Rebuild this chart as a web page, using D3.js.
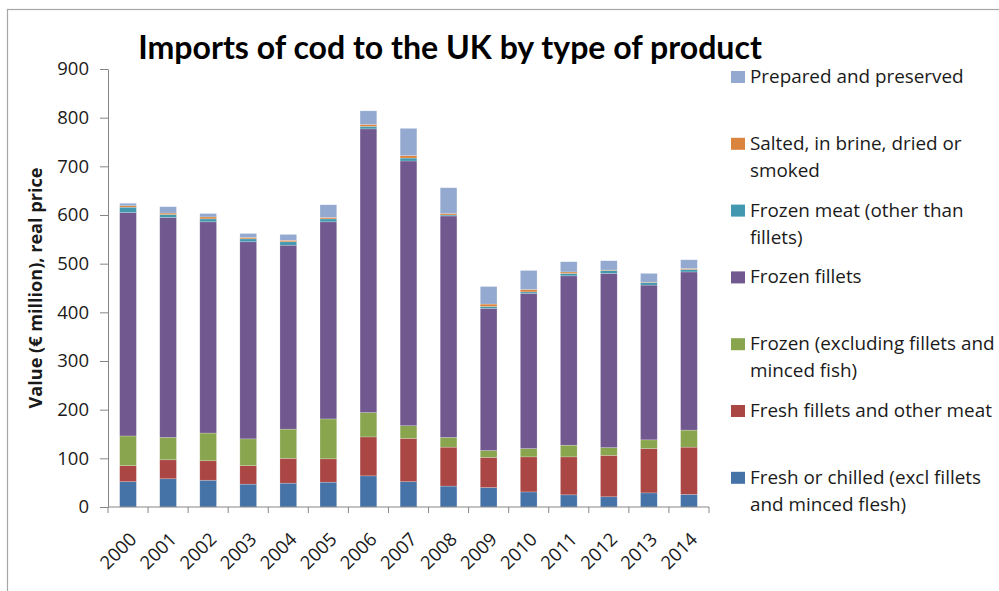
<!DOCTYPE html>
<html>
<head>
<meta charset="utf-8">
<script src="https://cdn.jsdelivr.net/npm/d3@7"></script>
<style>
  html, body { margin: 0; padding: 0; background: #fff; }
  svg { display: block; font-family: "Open Sans", Lato, sans-serif; }
</style>
</head>
<body>
<svg id="chart" width="999" height="591"></svg>
<script>
// Imports of cod to the UK, € million (real price), by product type
const years = ["2000","2001","2002","2003","2004","2005","2006","2007","2008","2009","2010","2011","2012","2013","2014"];
const freshChilled  = [52, 58, 55, 47, 49, 51, 64, 52, 43, 40, 31, 25, 21, 29, 26];
const freshFillets  = [33, 39, 40, 38, 51, 48, 80, 89, 80, 62, 72, 78, 85, 91, 97];
const frozenExcl    = [61, 46, 57, 55, 60, 82, 50, 26, 20, 14, 17, 24, 16, 18, 35];
const frozenFillets = [459, 452, 434, 405, 378, 405, 583, 544, 455, 292, 319, 348, 358, 318, 325];
const frozenMeat    = [11, 6, 6, 6, 7, 6, 5, 6, 2, 4, 3, 5, 6, 5, 5];
const salted        = [3, 3, 4, 3, 3, 3, 4, 5, 3, 5, 5, 3, 1, 1, 2];
const prepared      = [5, 13, 7, 8, 12, 26, 28, 56, 53, 36, 39, 21, 19, 18, 18];
const yTicks = [0, 100, 200, 300, 400, 500, 600, 700, 800, 900];

// stacking order, bottom to top
const series = [
  { key: "freshChilled",  name: ["Fresh or chilled (excl fillets", "and minced flesh)"], values: freshChilled,  color: "#4572A7" },
  { key: "freshFillets",  name: ["Fresh fillets and other meat"],                        values: freshFillets,  color: "#AA4643" },
  { key: "frozenExcl",    name: ["Frozen (excluding fillets and", "minced fish)"],      values: frozenExcl,    color: "#89A54E" },
  { key: "frozenFillets", name: ["Frozen fillets"],                                      values: frozenFillets, color: "#71588F" },
  { key: "frozenMeat",    name: ["Frozen meat (other than", "fillets)"],                values: frozenMeat,    color: "#4198AF" },
  { key: "salted",        name: ["Salted, in brine, dried or", "smoked"],               values: salted,        color: "#DB843D" },
  { key: "prepared",      name: ["Prepared and preserved"],                              values: prepared,      color: "#93A9CF" }
];

const rows = years.map((yr, i) => {
  const r = { year: yr };
  series.forEach(s => { r[s.key] = s.values[i]; });
  return r;
});
const stacked = d3.stack().keys(series.map(s => s.key))(rows);

const svg = d3.select("#chart");
const textColor = "#1a1a1a";
const axisColor = "#868686";

// fit a text element's font size to a target width
function fitWidth(sel, target) {
  const node = sel.node();
  const fs = parseFloat(sel.style("font-size"));
  const w = node.getComputedTextLength();
  const size = w > 0 ? fs * target / w : fs;
  sel.style("font-size", size.toFixed(2) + "px");
  return size;
}

// outer frame
svg.append("rect")
  .attr("x", 7.5).attr("y", 9.5)
  .attr("width", 1100).attr("height", 700)
  .attr("fill", "none").attr("stroke", "#a6a6a6").attr("stroke-width", 1.2);

const plot = { left: 108, right: 709, top: 69, bottom: 507 };

const x = d3.scaleBand()
  .domain(years)
  .range([plot.left, plot.right])
  .paddingInner(0.583)
  .paddingOuter(0.2915);

const y = d3.scaleLinear()
  .domain([0, 900])
  .range([plot.bottom, plot.top]);

// stacked bars
const layers = svg.append("g").selectAll("g")
  .data(stacked)
  .join("g")
  .attr("fill", (d, i) => series[i].color);

layers.selectAll("rect")
  .data(d => d)
  .join("rect")
  .attr("x", d => x(d.data.year))
  .attr("width", x.bandwidth())
  .attr("y", d => y(d[1]))
  .attr("height", d => Math.max(0, y(d[0]) - y(d[1])))
  .attr("stroke", "rgba(255,255,255,0.35)")
  .attr("stroke-width", 0.6);

// y axis
const yAxis = svg.append("g")
  .attr("transform", `translate(${plot.left},0)`)
  .call(d3.axisLeft(y).tickValues(yTicks).tickSize(8).tickPadding(11).tickSizeOuter(0));
yAxis.select(".domain").attr("stroke", axisColor);
yAxis.selectAll(".tick line").attr("stroke", axisColor);
yAxis.selectAll(".tick text")
  .attr("fill", textColor)
  .style("font-family", "'Open Sans', sans-serif")
  .style("font-size", "18.5px");

// x axis: boundary tick marks between categories
const xAxisG = svg.append("g").attr("transform", `translate(0,${plot.bottom})`);
xAxisG.append("line")
  .attr("x1", plot.left).attr("x2", plot.right)
  .attr("stroke", axisColor);
const step = x.step();
const boundaries = years.map(yr => x(yr) - (step - x.bandwidth()) / 2).concat([plot.right]);
xAxisG.selectAll("line.bt")
  .data(boundaries)
  .join("line")
  .attr("class", "bt")
  .attr("x1", d => d).attr("x2", d => d)
  .attr("y1", 0).attr("y2", 6)
  .attr("stroke", axisColor);

xAxisG.selectAll("text")
  .data(years)
  .join("text")
  .attr("transform", d => `translate(${x(d) + x.bandwidth() / 2 + 5},${29}) rotate(-45)`)
  .attr("text-anchor", "end")
  .attr("dy", "0.35em")
  .attr("fill", textColor)
  .style("font-size", "18.5px")
  .text(d => d);

// y axis title
const yTitle = svg.append("text")
  .attr("transform", `translate(42,288) rotate(-90)`)
  .attr("text-anchor", "middle")
  .attr("fill", textColor)
  .style("font-weight", "bold")
  .style("font-size", "16px")
  .text("Value (€ million), real price");
fitWidth(yTitle, 241);

// chart title
const title = svg.append("text")
  .attr("x", 450).attr("y", 59)
  .attr("text-anchor", "middle")
  .attr("fill", "#000")
  .style("font-family", "Lato, sans-serif")
  .style("font-weight", "bold")
  .style("font-size", "27px")
  .text("Imports of cod to the UK by type of product");
fitWidth(title, 624);

// legend (top entry is the top of the stack)
const legendItems = series.slice().reverse();
const legend = svg.append("g");
const legendStep = 66.8;

// size legend text so the widest single line spans its measured width
const probe = legend.append("text").style("font-size", "17px").text("Fresh fillets and other meat");
const legendSize = fitWidth(probe, 242);
probe.remove();

legendItems.forEach((s, i) => {
  const cy = 77 + i * legendStep;
  legend.append("rect")
    .attr("x", 731).attr("y", cy - 6)
    .attr("width", 14).attr("height", 12)
    .attr("fill", s.color);
  const t = legend.append("text")
    .attr("x", 750).attr("y", cy + 6)
    .attr("fill", textColor)
    .style("font-size", legendSize.toFixed(2) + "px");
  s.name.forEach((line, j) => {
    t.append("tspan")
      .attr("x", 750)
      .attr("dy", j === 0 ? 0 : 27)
      .text(line);
  });
});
</script>
</body>
</html>
